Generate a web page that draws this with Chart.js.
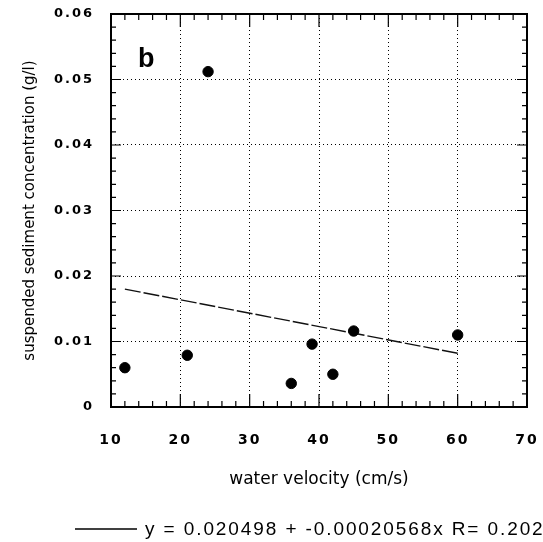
<!DOCTYPE html>
<html>
<head>
<meta charset="utf-8">
<script src="https://cdn.jsdelivr.net/npm/chart.js@4/dist/chart.umd.min.js"></script>
<style>
  html, body { margin: 0; padding: 0; background: #fff; }
  #wrap { width: 543px; height: 542px; }
</style>
</head>
<body>
<div id="wrap"><canvas id="myChart"></canvas></div>
<script>
// water velocity vs suspended sediment, panel b

const velocity = [12, 21, 24, 36, 39, 42, 45, 60];               // cm/s
const sediment = [0.0060, 0.0079, 0.0512, 0.0036, 0.0096, 0.0050, 0.0116, 0.0110]; // g/l

// regression line end points
const fitX = [12, 60];
const fitY = [0.0180, 0.0082];

const fitLabel = 'y = 0.020498 + -0.00020568x R= 0.202';
const panelLetter = 'b';

const xTicks = [10, 20, 30, 40, 50, 60, 70];
const yTicks = [0, 0.01, 0.02, 0.03, 0.04, 0.05, 0.06];

const tickFont = "'DejaVu Sans', sans-serif";

// tick labels in the original are widely spaced
const labelSpacing = { x: '2px', y: '2px' };

const spacedLabels = {
  id: 'spacedLabels',
  afterUpdate(chart) {
    Object.values(chart.scales).forEach(s => {
      if (s._spaced) return;
      const orig = s.drawLabels.bind(s);
      s.drawLabels = function (area) {
        this.ctx.save();
        this.ctx.letterSpacing = labelSpacing[this.id] || '0px';
        orig(area);
        this.ctx.restore();
      };
      s._spaced = true;
    });
  }
};

// frame with inward tick marks on all four sides
const frameTicks = {
  id: 'frameTicks',
  afterDatasetsDraw(chart) {
    const { ctx, chartArea: a, scales: { x, y } } = chart;
    ctx.save();
    ctx.strokeStyle = '#000';
    ctx.lineWidth = 1.2;
    ctx.beginPath();
    // x: minor every 2, major every 10
    for (let i = 0; i <= 30; i++) {
      const v = xTicks[0] + i * 2;
      const px = x.getPixelForValue(v);
      const len = i % 5 === 0 ? 13 : 6;
      ctx.moveTo(px, a.bottom); ctx.lineTo(px, a.bottom - len);
      ctx.moveTo(px, a.top); ctx.lineTo(px, a.top + len);
    }
    // y: minor every 0.002, major every 0.01
    for (let i = 0; i <= 30; i++) {
      const py = y.getPixelForValue(i * 0.002);
      const len = i % 5 === 0 ? 10 : 5;
      ctx.moveTo(a.left, py); ctx.lineTo(a.left + len, py);
      ctx.moveTo(a.right, py); ctx.lineTo(a.right - len, py);
    }
    ctx.stroke();
    ctx.lineWidth = 2;
    ctx.strokeRect(a.left, a.top, a.right - a.left, a.bottom - a.top);
    ctx.restore();
  }
};

// panel letter and the fit legend underneath
const annotations = {
  id: 'annotations',
  afterDraw(chart) {
    const { ctx, chartArea: a } = chart;
    ctx.save();
    ctx.fillStyle = '#000';
    ctx.font = "bold 27px 'Liberation Sans', Arial, sans-serif";
    ctx.textBaseline = 'alphabetic';
    ctx.fillText(panelLetter, a.left + 27, a.top + 53);

    ctx.strokeStyle = '#000';
    ctx.lineWidth = 1.3;
    ctx.beginPath();
    ctx.moveTo(75, 529); ctx.lineTo(137, 529);
    ctx.stroke();
    ctx.font = "19px 'Liberation Sans', Arial, sans-serif";
    ctx.letterSpacing = '1.9px';
    ctx.fillText(fitLabel, 145, 535);
    ctx.restore();
  }
};

const ctx = document.getElementById('myChart').getContext('2d');

new Chart(ctx, {
  type: 'scatter',
  data: {
    datasets: [
      {
        label: 'data',
        data: velocity.map((v, i) => ({ x: v, y: sediment[i] })),
        backgroundColor: '#000',
        borderColor: '#000',
        pointRadius: 5.2,
        pointHoverRadius: 5.2
      },
      {
        type: 'line',
        label: fitLabel,
        data: fitX.map((v, i) => ({ x: v, y: fitY[i] })),
        borderColor: '#111',
        borderWidth: 1.4,
        borderDash: [16, 3],
        pointRadius: 0,
        fill: false
      }
    ]
  },
  options: {
    responsive: true,
    maintainAspectRatio: false,
    animation: false,
    layout: { padding: { left: 0, right: 16, top: 14, bottom: 52 } },
    plugins: {
      legend: { display: false },
      tooltip: { enabled: false }
    },
    scales: {
      x: {
        type: 'linear',
        min: 10,
        max: 70,
        afterFit: s => { s.height = 83; s.paddingLeft = 0; s.paddingRight = 0; },
        afterBuildTicks: s => { s.ticks = xTicks.map(v => ({ value: v })); },
        grid: { color: '#000', lineWidth: 1, drawTicks: false },
        border: { display: false, dash: [1, 3] },
        ticks: {
          padding: 25,
          color: '#000',
          font: { family: tickFont, size: 14, weight: 'bold' }
        },
        title: {
          display: true,
          text: 'water velocity (cm/s)',
          color: '#000',
          padding: { top: 0, bottom: 0 },
          font: { family: tickFont, size: 17 }
        }
      },
      y: {
        type: 'linear',
        min: 0,
        max: 0.06,
        afterFit: s => { s.width = 111; s.paddingTop = 0; s.paddingBottom = 0; },
        afterBuildTicks: s => { s.ticks = yTicks.map(v => ({ value: v })); },
        grid: { color: '#000', lineWidth: 1, drawTicks: false },
        border: { display: false, dash: [1, 3] },
        ticks: {
          padding: 17,
          color: '#000',
          font: { family: tickFont, size: 13, weight: 'bold' },
          callback: v => (v === 0 ? '0' : v.toFixed(2))
        },
        title: {
          display: true,
          text: 'suspended sediment concentration (g/l)',
          color: '#000',
          padding: { top: 21, bottom: 0 },
          font: { family: tickFont, size: 15 }
        }
      }
    }
  },
  plugins: [spacedLabels, frameTicks, annotations]
});
</script>
</body>
</html>
